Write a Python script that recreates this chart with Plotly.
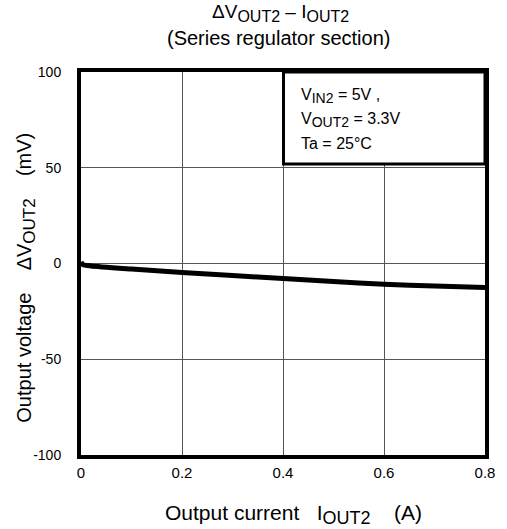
import plotly.graph_objects as go

current_a = [0.0, 0.004, 0.02, 0.1, 0.2, 0.3, 0.4, 0.5, 0.6, 0.7, 0.8]
delta_v_mv = [0.8, -0.6, -1.3, -2.9, -4.7, -6.3, -7.8, -9.4, -10.9, -11.8, -12.5]

x_ticks = [0, 0.2, 0.4, 0.6, 0.8]
x_tick_text = ["0", "0.2", "0.4", "0.6", "0.8"]
y_ticks = [-100, -50, 0, 50, 100]
y_tick_text = ["-100", "-50", "0", "50", "100"]

FONT = "Liberation Sans, Arial, sans-serif"
W, H = 507, 529
L, R, T, B = 81, 17, 72, 74


def sub(s, px):
    return f'<sub><span style="font-size:{px}px">{s}</span></sub>'


fig = go.Figure()
fig.add_trace(go.Scatter(x=current_a, y=delta_v_mv, mode="lines",
                         line=dict(color="black", width=5, shape="spline", smoothing=0.6),
                         showlegend=False, hoverinfo="skip"))

fig.update_layout(
    width=W, height=H,
    margin=dict(l=L, r=R, t=T, b=B),
    paper_bgcolor="white", plot_bgcolor="white",
    font=dict(family=FONT, size=15, color="black"),
    xaxis=dict(range=[0, 0.8], tickvals=x_ticks, ticktext=x_tick_text,
               showgrid=True, gridcolor="#555555", gridwidth=1,
               showline=True, linecolor="black", linewidth=4, mirror=True,
               zeroline=False, ticks="", ticklabelstandoff=1,
               tickfont=dict(size=15, family=FONT)),
    yaxis=dict(range=[-100, 100], tickvals=y_ticks, ticktext=y_tick_text,
               showgrid=True, gridcolor="#555555", gridwidth=1,
               showline=True, linecolor="black", linewidth=4, mirror=True,
               zeroline=False, ticks="", ticklabelstandoff=13,
               tickfont=dict(size=14, family=FONT)),
)

pw, ph = W - L - R, H - T - B


def px_x(px):
    return (px - L) / pw


def px_y(py):
    return (H - B - py) / ph


# Title
fig.add_annotation(text=f"ΔV{sub('OUT2', 16)} – I{sub('OUT2', 16)}",
                   xref="paper", yref="paper", x=px_x(283), y=px_y(13),
                   xanchor="center", yanchor="middle", showarrow=False,
                   font=dict(size=19, family=FONT))
fig.add_annotation(text="(Series regulator section)",
                   xref="paper", yref="paper", x=px_x(281), y=px_y(38),
                   xanchor="center", yanchor="middle", showarrow=False,
                   font=dict(size=20, family=FONT))
# X title
fig.add_annotation(text=f"Output current   I{sub('OUT2', 18)}    (A)",
                   xref="paper", yref="paper", x=px_x(296), y=px_y(514),
                   xanchor="center", yanchor="middle", showarrow=False,
                   font=dict(size=21, family=FONT))
# Y title
fig.add_annotation(text=f"Output voltage    ΔV{sub('OUT2', 17)}    (mV)",
                   xref="paper", yref="paper", x=px_x(25), y=px_y(278),
                   xanchor="center", yanchor="middle", showarrow=False, textangle=-90,
                   font=dict(size=20, family=FONT))

# Condition box
fig.add_shape(type="rect", xref="paper", yref="paper",
              x0=px_x(286), x1=1, y0=px_y(164), y1=1,
              line=dict(color="black", width=3), fillcolor="white", layer="above")
cond_lines = [f"V{sub('IN2', 14)} = 5V ,", f"V{sub('OUT2', 14)} = 3.3V", "Ta = 25°C"]
cond_y = [96, 120, 143]
for txt, yy in zip(cond_lines, cond_y):
    fig.add_annotation(text=txt, xref="paper", yref="paper", x=px_x(302), y=px_y(yy),
                       xanchor="left", yanchor="middle", align="left", showarrow=False,
                       font=dict(size=16, family=FONT))

fig.write_html("out.html", config={"displayModeBar": False},
               post_script="document.body.style.margin='0';")
